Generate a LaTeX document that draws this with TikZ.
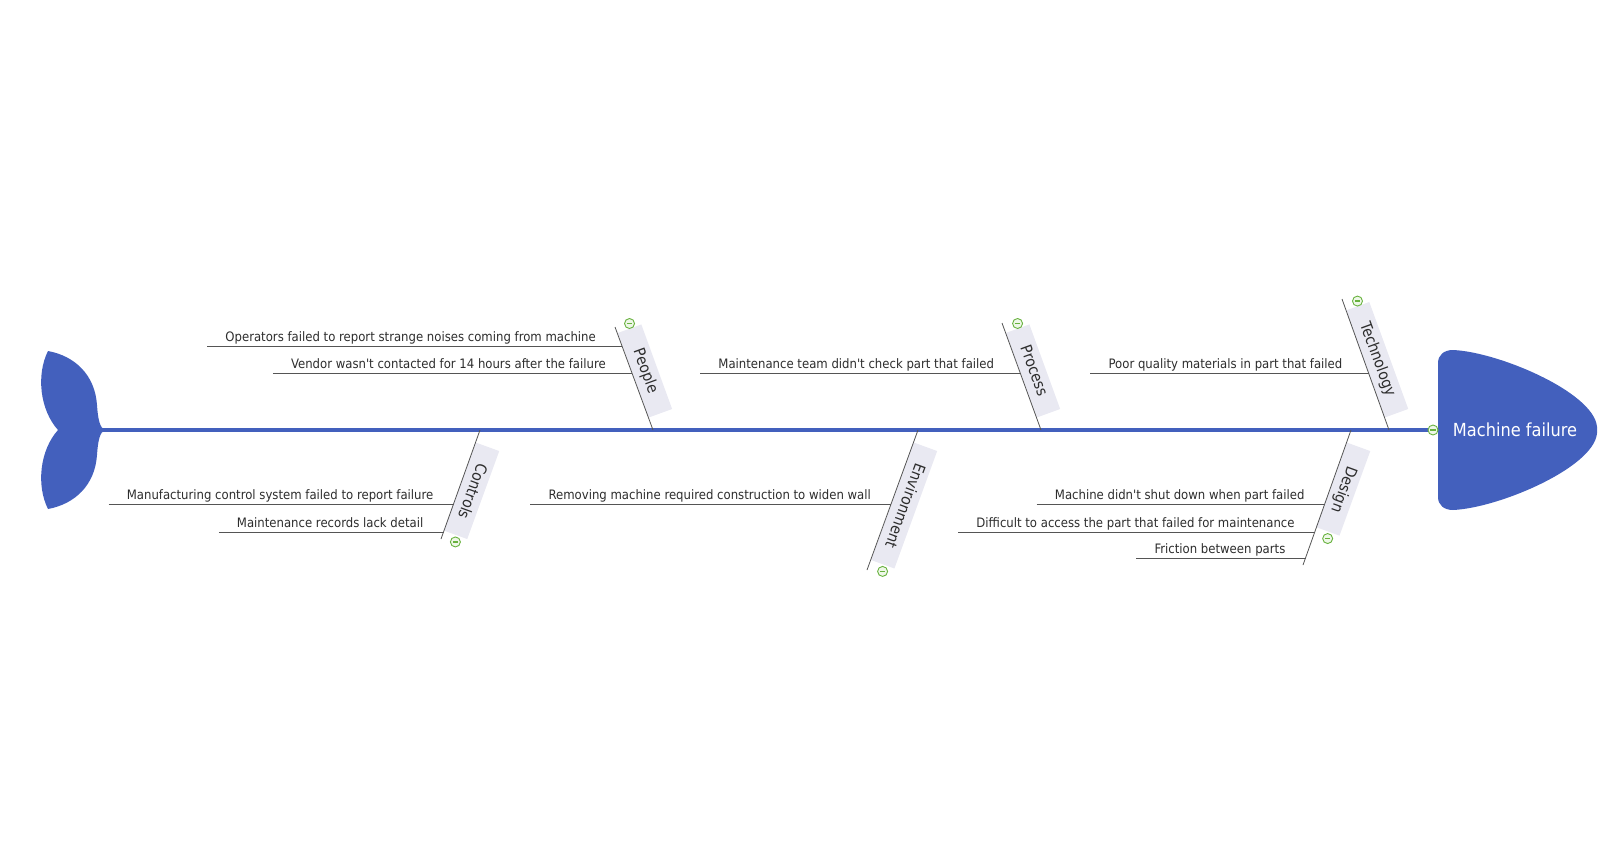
\documentclass[tikz,border=0pt]{standalone}
\usepackage{fontspec}
\setmainfont{DejaVu Sans Condensed}
\usetikzlibrary{calc}
\newcommand{\apos}{\textquotesingle{}}
\definecolor{FishBlue}{RGB}{67,96,189}
\definecolor{BoneGray}{RGB}{85,85,85}
\definecolor{TagFill}{RGB}{233,233,242}
\definecolor{TickGreen}{RGB}{104,178,62}
\definecolor{TickFill}{RGB}{238,247,232}
\definecolor{CauseText}{RGB}{45,45,45}
\tikzset{
  bone/.style={draw=BoneGray,line width=0.8pt},
  cause/.style={font=\fontsize{13}{15}\selectfont,text=CauseText,
    inner xsep=18pt,inner ysep=1.5pt,text height=9.5pt,text depth=3pt},
  tag/.style={fill=TagFill,font=\fontsize{15.5}{18}\selectfont,text=CauseText,
    minimum width=90pt,minimum height=25pt,inner xsep=18pt,inner ysep=0pt,
    text height=11pt,text depth=3pt},
  collapse/.style={circle,draw=TickGreen,fill=TickFill,line width=0.9pt,
    minimum size=10pt,inner sep=0pt,
    path picture={\draw[TickGreen,line width=1.2pt]
      ([xshift=-2.6pt]path picture bounding box.center) --
      ([xshift=2.6pt]path picture bounding box.center);}},
}
\begin{document}
\begin{tikzpicture}[x=1pt,y=-1pt]
  \useasboundingbox (0,0) rectangle (1619,857);
  % tail and head
  \fill[FishBlue] (48,351) .. controls (75,356) and (95,375) .. (97,405)
    .. controls (98,420) and (100,428) .. (105,430)
    .. controls (100,432) and (98,440) .. (97,455)
    .. controls (95,485) and (75,504) .. (48,509)
    .. controls (36,485) and (40,450) .. (58,430)
    .. controls (40,410) and (36,375) .. (48,351) -- cycle;
  \fill[FishBlue] (1438,430) -- (1438,363) .. controls (1438,355) and (1444,350) .. (1453,350)
    .. controls (1500,352) and (1600,395) .. (1597,430)
    .. controls (1600,465) and (1500,508) .. (1453,510)
    .. controls (1444,510) and (1438,505) .. (1438,497) -- cycle;
  \node[text=white,font=\fontsize{18}{21}\selectfont] (head) at (1515,430) {Machine failure};
  \coordinate (tail) at (102,430);
  \coordinate (neck) at (1438,430);
  \draw[FishBlue,line width=4pt] (tail) -- (neck);
  \node[collapse] (neck-icon) at ([xshift=-5pt]neck) {};

  % upper bones
  \foreach \n/\sx/\tx/\ty/\lab in {people/653/615/327/People,process/1041/1002/323/Process,
                                   technology/1389/1342/299/Technology}{
    \coordinate (\n-s) at (\sx,430);
    \coordinate (\n-t) at (\tx,\ty);
    \node[tag,rotate=-70,anchor=south east] (\n) at ($(\n-s)!13pt!(\n-t)$) {\lab};
    \draw[bone] (\n-s) -- (\n-t);
    \node[collapse] (\n-icon) at ([yshift=5pt]\n.west) {};}
  % lower bones
  \foreach \n/\sx/\tx/\ty/\lab in {controls/480/441/539/Controls,environment/918/867/570/Environment,
                                   design/1351/1303/565/Design}{
    \coordinate (\n-s) at (\sx,430);
    \coordinate (\n-t) at (\tx,\ty);
    \node[tag,rotate=-110,anchor=south west] (\n) at ($(\n-s)!13pt!(\n-t)$) {\lab};
    \draw[bone] (\n-s) -- (\n-t);
    \node[collapse] (\n-icon) at ([yshift=-7pt]\n.east) {};}

  % causes
  \foreach \b/\y/\nm/\gap/\txt in {
      people/346/op/8/{Operators failed to report strange noises coming from machine},
      people/373/ve/8/{Vendor wasn\apos t contacted for 14 hours after the failure},
      process/373/mt/8/{Maintenance team didn\apos t check part that failed},
      technology/373/pq/8/{Poor quality materials in part that failed},
      controls/504/mc/2/{Manufacturing control system failed to report failure},
      controls/532/mr/2/{Maintenance records lack detail},
      environment/504/rm/2/{Removing machine required construction to widen wall},
      design/504/sd/2/{Machine didn\apos t shut down when part failed},
      design/532/da/2/{Difficult to access the part that failed for maintenance},
      design/558/fr/2/{Friction between parts}}{
    \coordinate (\nm-b) at (intersection cs: first line={(\b-s)--(\b-t)},
                             second line={(0,\y)--(10,\y)});
    \node[cause,anchor=south east] (\nm) at ([xshift=-\gap pt]\nm-b) {\txt};
    \draw[bone] (\nm.south west) -- (\nm-b);}
\end{tikzpicture}
\end{document}
